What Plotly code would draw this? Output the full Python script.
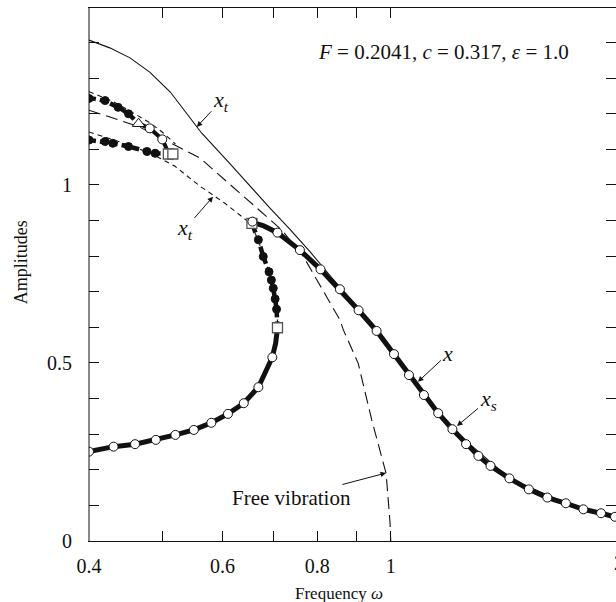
import numpy as np
import plotly.graph_objects as go

# ---------------- data ----------------
# main response, lower stable branch (thick solid)
low_w = [0.400, 0.431, 0.460, 0.490, 0.520, 0.550, 0.580, 0.610, 0.640, 0.669, 0.698, 0.705, 0.709]
low_a = [0.251, 0.265, 0.272, 0.284, 0.298, 0.312, 0.332, 0.357, 0.387, 0.432, 0.516, 0.555, 0.597]
low_mw = [0.400, 0.431, 0.460, 0.490, 0.520, 0.550, 0.580, 0.610, 0.640, 0.669, 0.698]
low_ma = [0.251, 0.265, 0.272, 0.284, 0.298, 0.312, 0.332, 0.357, 0.387, 0.432, 0.516]

# middle unstable branch (thick dashed, filled circles)
mid_w = [0.709, 0.709, 0.707, 0.704, 0.700, 0.696, 0.691, 0.679, 0.669, 0.662, 0.656]
mid_a = [0.597, 0.625, 0.651, 0.680, 0.710, 0.733, 0.756, 0.799, 0.846, 0.870, 0.892]
mid_mw = [0.707, 0.704, 0.700, 0.696, 0.691, 0.679, 0.669]
mid_ma = [0.651, 0.680, 0.710, 0.733, 0.756, 0.799, 0.846]

# upper stable branch (thick solid, open circles)
up_w = [0.656, 0.680, 0.709, 0.759, 0.808, 0.857, 0.907, 0.958, 1.010, 1.057, 1.106, 1.155,
        1.206, 1.257, 1.305, 1.354, 1.434, 1.521, 1.609, 1.702, 1.795, 1.894, 1.976, 2.0]
up_a = [0.895, 0.885, 0.866, 0.817, 0.763, 0.707, 0.648, 0.590, 0.525, 0.466, 0.410, 0.359,
        0.314, 0.272, 0.239, 0.211, 0.176, 0.145, 0.122, 0.106, 0.089, 0.078, 0.068, 0.065]
up_mw = [0.657, 0.709, 0.759, 0.808, 0.857, 0.907, 0.958, 1.010, 1.057, 1.106, 1.155,
         1.206, 1.257, 1.305, 1.354, 1.434, 1.521, 1.609, 1.702, 1.795, 1.894, 1.976]
up_ma = [0.897, 0.866, 0.817, 0.763, 0.707, 0.648, 0.590, 0.525, 0.466, 0.410, 0.359,
         0.314, 0.272, 0.239, 0.211, 0.176, 0.145, 0.122, 0.106, 0.089, 0.078, 0.068]

# upper-left cluster: unstable (filled) and stable (open) pieces
c1_w = [0.400, 0.420, 0.440, 0.451, 0.465]
c1_a = [1.245, 1.236, 1.215, 1.200, 1.172]
c1_mw = [0.400, 0.420, 0.437, 0.451]
c1_ma = [1.243, 1.237, 1.218, 1.200]
c2_w = [0.465, 0.481, 0.500, 0.509]
c2_a = [1.172, 1.159, 1.128, 1.090]
c2_mw = [0.481, 0.4997]
c2_ma = [1.159, 1.128]
c3_w = [0.400, 0.420, 0.430, 0.451, 0.477, 0.489, 0.509]
c3_a = [1.126, 1.122, 1.117, 1.108, 1.094, 1.089, 1.087]
c3_mw = [0.400, 0.420, 0.430, 0.451, 0.477, 0.489]
c3_ma = [1.126, 1.122, 1.117, 1.108, 1.094, 1.089]

tri_w = [0.465]
tri_a = [1.172]
sq_w = [0.509, 0.516, 0.656, 0.709]
sq_a = [1.087, 1.087, 0.892, 0.599]

# x_t approximations
xt1_w = [0.400, 0.426, 0.453, 0.481, 0.512, 0.544, 0.563, 0.614, 0.652, 0.693, 0.736, 0.783,
         0.832, 0.884, 0.958, 1.057, 1.206, 1.434, 1.702, 2.0]
xt1_a = [1.407, 1.385, 1.357, 1.317, 1.261, 1.188, 1.146, 1.059, 0.997, 0.935, 0.876, 0.812,
         0.745, 0.680, 0.590, 0.466, 0.314, 0.176, 0.106, 0.065]
xt2_w = [0.400, 0.439, 0.481, 0.519, 0.560, 0.605, 0.652, 0.669, 0.679, 0.691, 0.700, 0.707, 0.710]
xt2_a = [1.149, 1.121, 1.090, 1.053, 0.997, 0.948, 0.893, 0.846, 0.799, 0.756, 0.710, 0.651, 0.600]
xt3_w = [0.400, 0.430, 0.451, 0.481, 0.500, 0.520]
xt3_a = [1.262, 1.235, 1.210, 1.175, 1.148, 1.115]

# free vibration backbone
fv_w = [0.400, 0.465, 0.560, 0.640, 0.718, 0.767, 0.815, 0.857, 0.866, 0.906, 0.944, 0.973, 0.986, 0.998, 1.000]
fv_a = [1.210, 1.164, 1.076, 0.967, 0.874, 0.799, 0.702, 0.621, 0.593, 0.499, 0.340, 0.237, 0.190, 0.050, 0.000]

x_tickvals = [0.4, 0.5, 0.6, 0.7, 0.8, 0.9, 1.0]
x_ticktext = ["0.4", "", "0.6", "", "0.8", "", "1"]
y_tickvals = [0.0, 0.1, 0.2, 0.3, 0.4, 0.5, 0.6, 0.7, 0.8, 0.9, 1.0, 1.1, 1.2, 1.3, 1.4]
y_ticktext = ["0", "", "", "", "", "0.5", "", "", "", "", "1", "", "", "", ""]
X_MIN, X_MAX = 0.4, 1.982
Y_MIN, Y_MAX = 0.0, 1.497

FONT = "Liberation Serif"
BLACK = "#111111"

fig = go.Figure()


def line(w, a, width=1, dash="solid"):
    fig.add_trace(go.Scatter(x=w, y=a, mode="lines", hoverinfo="skip",
                             line=dict(color=BLACK, width=width, dash=dash)))


def marks(w, a, symbol, size, fill, lcol=BLACK, lw=1):
    fig.add_trace(go.Scatter(x=w, y=a, mode="markers", hoverinfo="skip",
                             marker=dict(symbol=symbol, size=size, color=fill,
                                         line=dict(color=lcol, width=lw))))


# thin curves
line(fv_w, fv_a, 1.1, "12px,6px")
line(xt1_w, xt1_a, 1.1)
line(xt2_w, xt2_a, 1.1, "5px,4px")
line(xt3_w, xt3_a, 1.1, "5px,4px")

# thick curves
line(low_w, low_a, 5)
line(up_w, up_a, 5)
line(mid_w, mid_a, 4.5, "7px,4px")
line(c1_w, c1_a, 4.5, "7px,4px")
line(c3_w, c3_a, 4.5, "7px,4px")
line(c2_w, c2_a, 4)

# markers
marks(mid_mw, mid_ma, "circle", 8, BLACK)
marks(c1_mw, c1_ma, "circle", 8, BLACK)
marks(c3_mw, c3_ma, "circle", 8, BLACK)
marks(sq_w, sq_a, "square", 10, "white", "#555555", 1.3)
marks(low_mw, low_ma, "circle", 9, "white")
marks(up_mw, up_ma, "circle", 9, "white")
marks(c2_mw, c2_ma, "circle", 9, "white")
marks(tri_w, tri_a, "triangle-up", 11, "white")

lw = np.log10
ann = []
ann.append(dict(xref="paper", yref="paper", x=0.430, y=0.917, xanchor="left", yanchor="middle",
                text="<i>F</i> = 0.2041, <i>c</i> = 0.317, <i>ε</i> = 1.0", showarrow=False,
                font=dict(family=FONT, size=21, color=BLACK)))
lab_font = dict(family=FONT, size=22, color=BLACK)
arrow_common = dict(showarrow=True, arrowhead=2, arrowsize=1.1, arrowwidth=1, arrowcolor=BLACK,
                    xref="x", yref="y", axref="pixel", ayref="pixel", standoff=0, font=lab_font)
ann.append(dict(x=lw(0.555), y=1.163, ax=24, ay=-26, text="<i>x</i><sub><i>t</i></sub>", **arrow_common))
ann.append(dict(x=lw(0.583), y=0.967, ax=-28, ay=32, text="<i>x</i><sub><i>t</i></sub>", **arrow_common))
ann.append(dict(x=lw(1.086), y=0.447, ax=30, ay=-28, text="<i>x</i>", **arrow_common))
ann.append(dict(x=lw(1.223), y=0.323, ax=31, ay=-26, text="<i>x</i><sub><i>s</i></sub>", **arrow_common))
fv_common = dict(arrow_common)
fv_common["font"] = dict(family=FONT, size=21, color=BLACK)
ann.append(dict(x=lw(0.986), y=0.191, ax=-95, ay=25, text="Free vibration", **fv_common))
# axis titles
ann.append(dict(xref="paper", yref="paper", x=0.474, y=-0.0976, text="Frequency <i>ω</i>",
                showarrow=False, xanchor="center", yanchor="middle", font=dict(family=FONT, size=17, color=BLACK)))
ann.append(dict(xref="paper", yref="paper", x=-0.129, y=0.523, text="Amplitudes", textangle=-90,
                showarrow=False, xanchor="center", yanchor="middle", font=dict(family=FONT, size=18, color=BLACK)))
# the "2" tick label, located just past the visible right edge
ann.append(dict(xref="paper", yref="paper", x=1.0057, y=-0.042, text="2", showarrow=False,
                xanchor="center", yanchor="middle", font=dict(family=FONT, size=20, color=BLACK)))

fig.update_layout(
    width=616, height=602,
    margin=dict(l=89, r=0, t=8, b=61, pad=0),
    paper_bgcolor="white", plot_bgcolor="white",
    showlegend=False,
    annotations=ann,
    shapes=[dict(type="line", xref="paper", yref="paper", x0=0, x1=0, y0=0, y1=1,
                 line=dict(color=BLACK, width=1))],
    xaxis=dict(type="log", range=[lw(X_MIN), lw(X_MAX)], tickvals=x_tickvals, ticktext=x_ticktext,
               ticks="inside", ticklen=10, tickwidth=1, tickcolor=BLACK, showline=True, linecolor=BLACK,
               linewidth=1, mirror="ticks", showgrid=False, zeroline=False, ticklabelstandoff=7,
               tickfont=dict(family=FONT, size=20, color=BLACK)),
    yaxis=dict(range=[Y_MIN, Y_MAX], tickvals=y_tickvals, ticktext=y_ticktext,
               ticks="inside", ticklen=10, tickwidth=1, tickcolor=BLACK, showline=True,
               linecolor="rgba(0,0,0,0)",
               linewidth=1, mirror="ticks", showgrid=False, zeroline=False, ticklabelstandoff=12,
               tickfont=dict(family=FONT, size=20, color=BLACK)),
)

fig.write_html("out.html")
